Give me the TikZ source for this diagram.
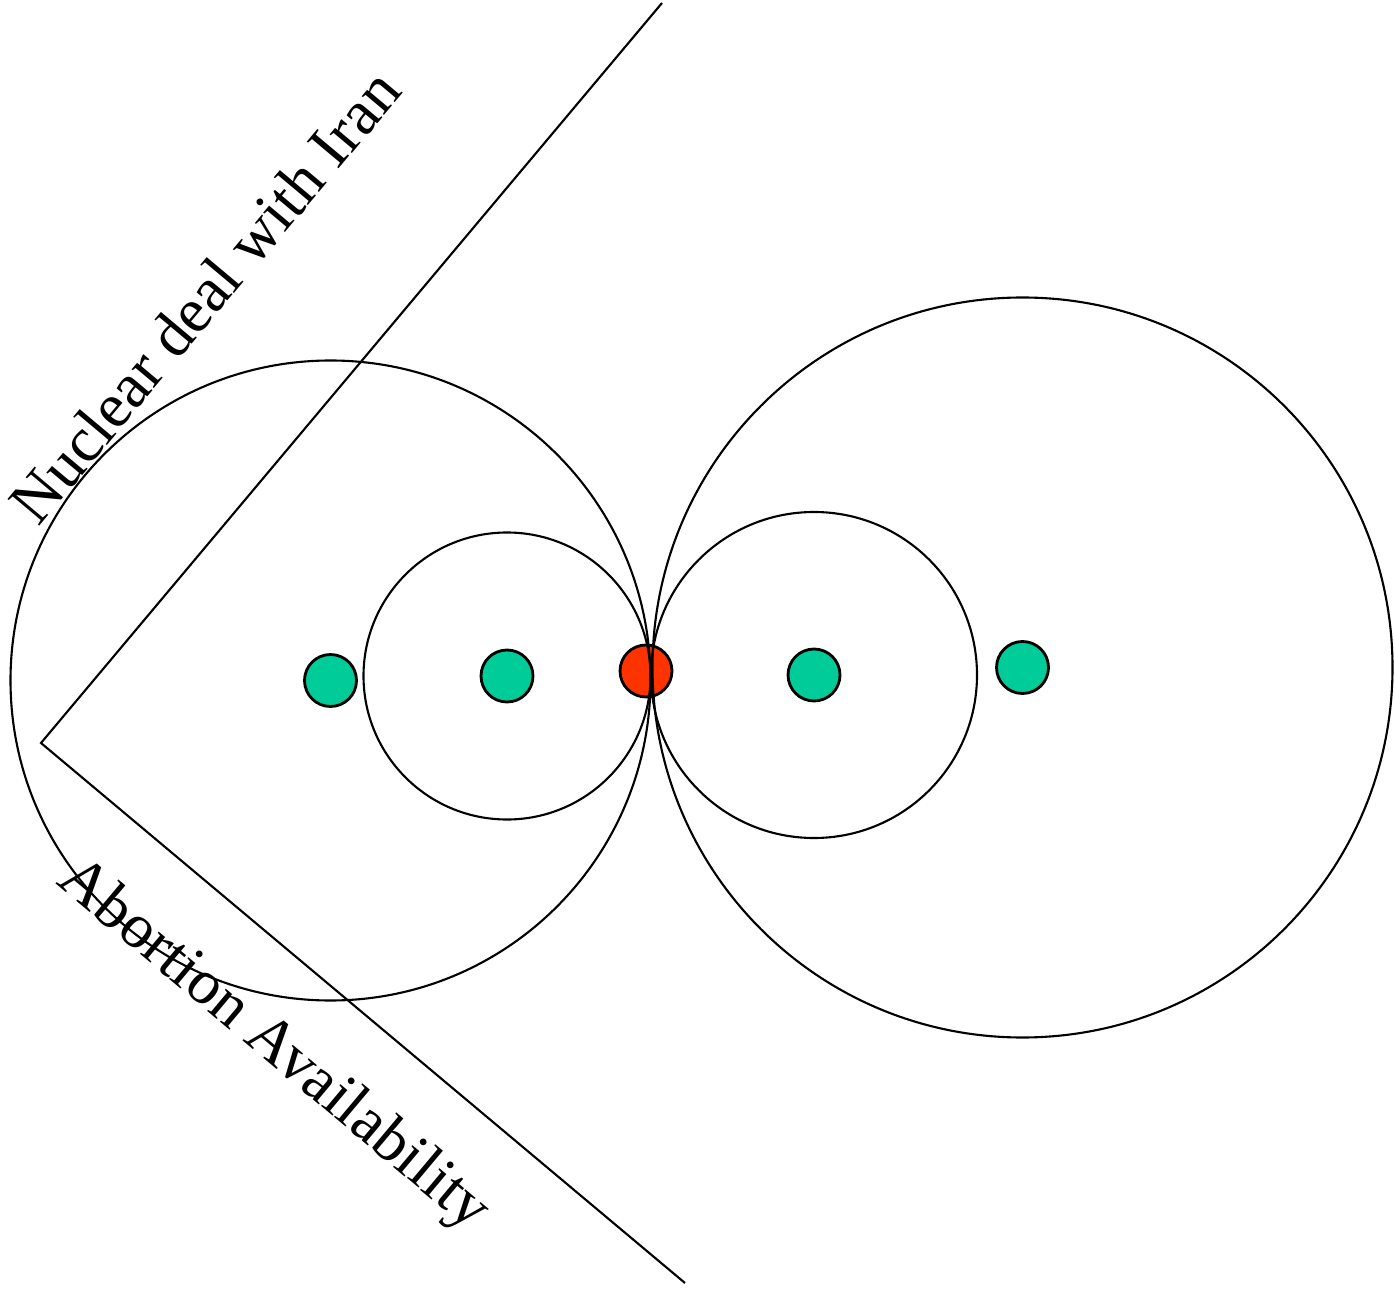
\documentclass[tikz,border=0pt]{standalone}
\usepackage{fontspec}
\setmainfont{Liberation Serif}
\usetikzlibrary{positioning}
\definecolor{voter}{HTML}{00CC99}
\definecolor{statusquo}{HTML}{FF3300}

\begin{document}
\begin{tikzpicture}[
    line width=0.6pt,
    ideal/.style={circle,draw,line width=0.8pt,minimum size=0.52cm,inner sep=0pt},
    axislabel/.style={font=\fontsize{18}{22}\selectfont,anchor=base west,inner sep=0pt}]
  \useasboundingbox (0,0) rectangle (13.95,12.90);

  % Ideal points
  \node[ideal,fill=voter] (p1) at (3.305,6.095) {};
  \node[ideal,fill=voter] (p2) at (5.07,6.14) {};
  \node[ideal,fill=voter] (p3) at (8.14,6.15) {};
  \node[ideal,fill=voter] (p4) at (10.225,6.225) {};
  \node[ideal,fill=statusquo] (sq) at (6.46,6.19) {};

  % Indifference circles through the status quo
  \draw (p1.center) circle (3.20);
  \draw (p2.center) circle (1.435);
  \draw (p3.center) circle (1.63);
  \draw (p4.center) circle (3.70);

  % Issue axes
  \coordinate (o) at (0.41,5.47);
  \coordinate (nend) at (6.62,12.87);
  \coordinate (aend) at (6.85,0.07);
  \draw (nend) -- (o) -- (aend);

  % Axis labels
  \node[axislabel,rotate=50] (nlab) at (0.38,7.62) {Nuclear deal with Iran};
  \node[axislabel,rotate=-40] (alab) at (0.55,4.07) {Abortion Availability};
\end{tikzpicture}
\end{document}
